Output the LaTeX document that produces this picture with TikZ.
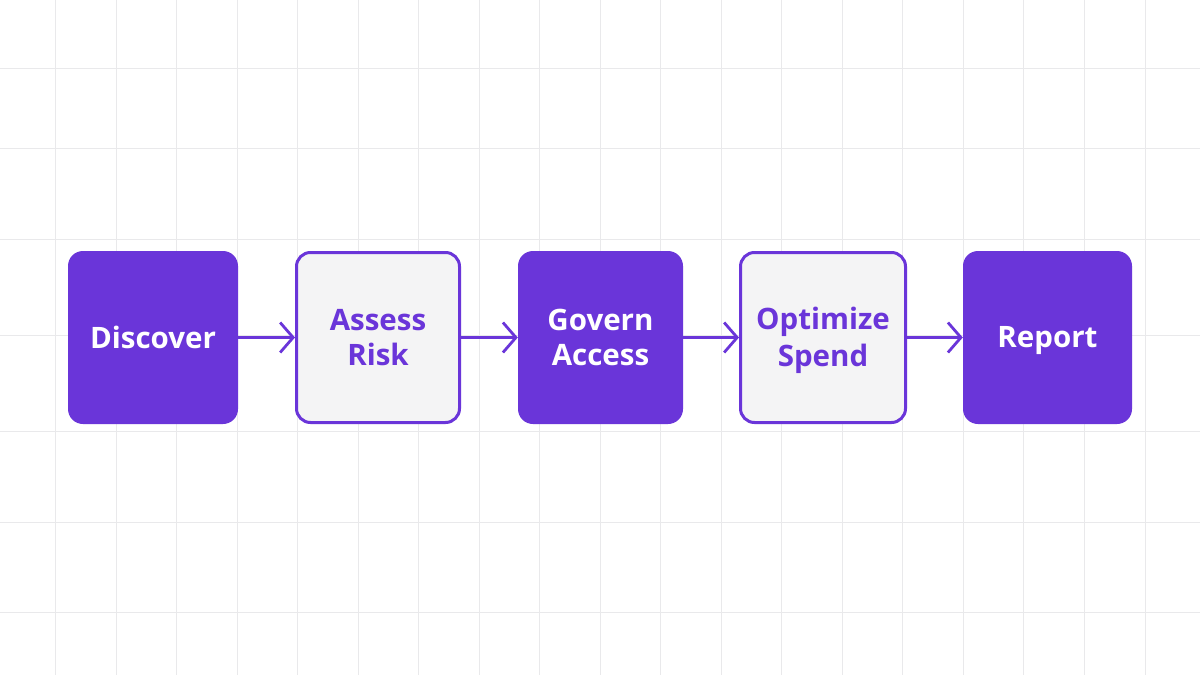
\documentclass[tikz,border=0pt]{standalone}
\usepackage{fontspec}
\setmainfont{Open Sans}
\usepackage{tikz}
\usetikzlibrary{arrows.meta}
\usepackage{xcolor}

\definecolor{stepviolet}{HTML}{6A35D9}
\definecolor{stepgrey}{HTML}{F4F4F5}
\definecolor{gridgrey}{HTML}{E9E9EB}

\newcommand{\capstrut}{\rule[-7pt]{0pt}{35pt}}

\tikzset{
    fullbox/.style={fill=stepviolet, rounded corners=15pt, minimum width=170pt,
        minimum height=173pt, text=white, align=center, inner sep=0pt,
        font=\fontsize{29.5}{35}\selectfont\bfseries},
    hollowbox/.style={draw=stepviolet, line width=3pt, fill=stepgrey, rounded corners=14pt,
        minimum width=165pt, minimum height=170pt, text=stepviolet, align=center,
        inner sep=0pt, font=\fontsize{29.5}{35}\selectfont\bfseries},
    flow/.style={draw=stepviolet, line width=2.8pt,
        -{Straight Barb[length=13pt, width=30pt, line width=2.8pt]}},
}

\begin{document}
\begin{tikzpicture}[x=1pt, y=-1pt]
        \fill[white] (0, 0) rectangle (1200, 675);
        \useasboundingbox (0, 0) rectangle (1200, 675);

        % background grid
        \foreach \gx in {0,...,18}
            \draw[gridgrey, line width=1pt] ({55.5 + 60.53*\gx}, 0) -- ({55.5 + 60.53*\gx}, 675);
        \foreach \gy in {68, 148, 239, 335, 431, 522, 612}
            \draw[gridgrey, line width=1pt] (0, \gy) -- (1200, \gy);

        \node[fullbox]                       (discover) at (153, 337.5)    {\capstrut Discover};
        \node[hollowbox, minimum width=163pt] (assess)   at (378, 337.5)    {\capstrut Assess\\\capstrut Risk};
        \node[fullbox, minimum width=165pt]   (govern)   at (600.5, 337.5)  {\capstrut Govern\\\capstrut Access};
        \node[hollowbox]                     (optimize) at (823, 337.5)    {\capstrut Optimize\\\capstrut Spend};
        \node[fullbox, minimum width=169pt]   (report)   at (1047.5, 337.5) {\capstrut Report};

        \draw[flow] (discover) -- (assess);
        \draw[flow] (assess)   -- (govern);
        \draw[flow] (govern)   -- (optimize);
        \draw[flow] (optimize) -- (report);
    \end{tikzpicture}
\end{document}
